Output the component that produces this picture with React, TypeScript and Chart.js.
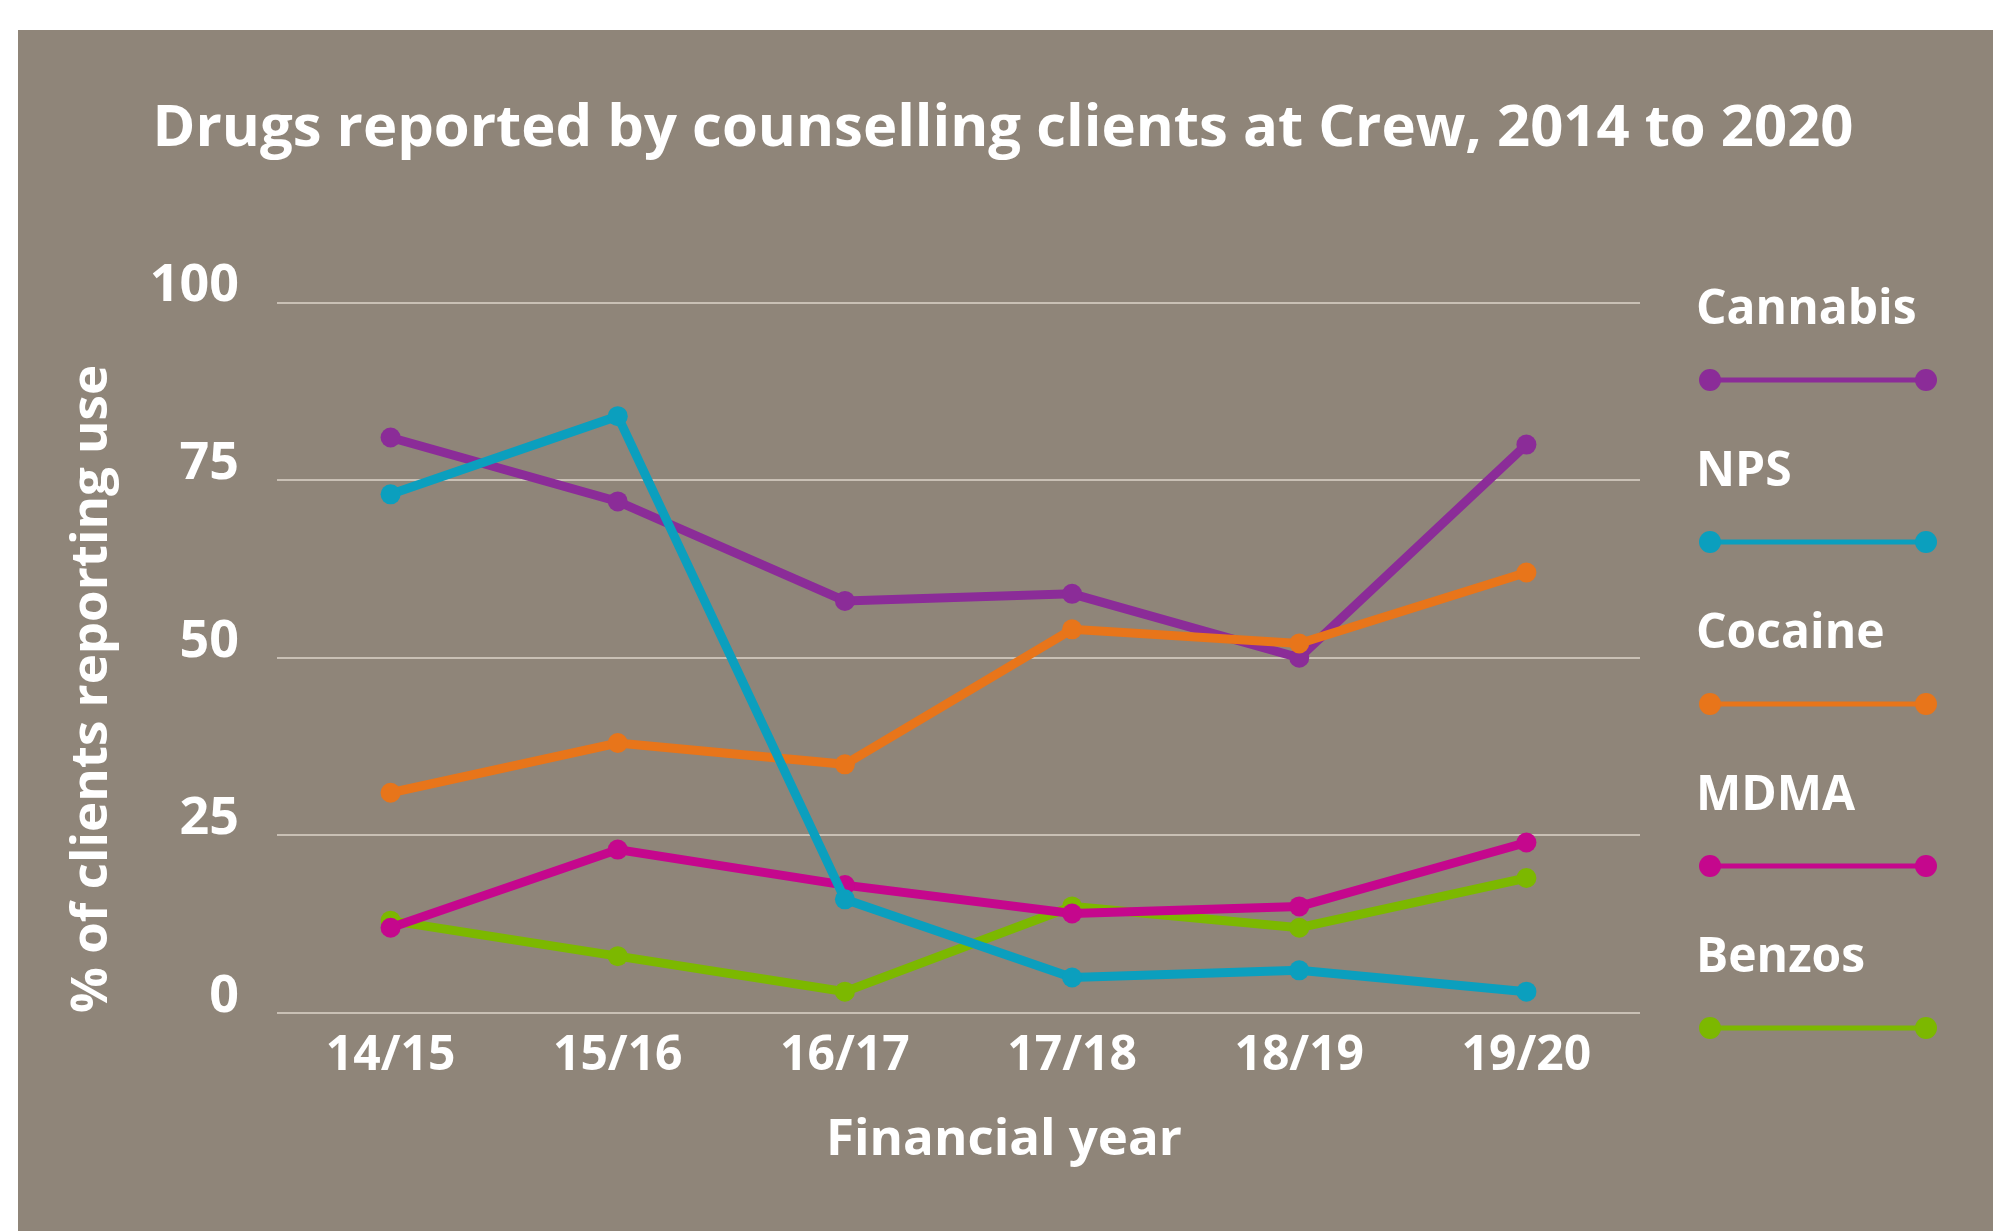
import React, { useEffect, useRef } from "react";
import { Chart, registerables } from "chart.js";

Chart.register(...registerables);

const categories = ["14/15", "15/16", "16/17", "17/18", "18/19", "19/20"];
const seriesNames = ["Cannabis", "NPS", "Cocaine", "MDMA", "Benzos"];
const seriesColors = ["#8b2c98", "#0b9fbe", "#e8751a", "#c5078d", "#7cb800"];
const cannabis = [81, 72, 58, 59, 50, 80];
const nps = [73, 84, 16, 5, 6, 3];
const cocaine = [31, 38, 35, 54, 52, 62];
const mdma = [12, 23, 18, 14, 15, 24];
const benzos = [13, 8, 3, 15, 12, 19];
const seriesValues = [cannabis, nps, cocaine, mdma, benzos];
const drawOrder = [4, 1, 2, 3, 5];
const yMin = 0;
const yMax = 100;
const yStep = 25;
const titleText = "Drugs reported by counselling clients at Crew, 2014 to 2020";
const xTitle = "Financial year";
const yTitle = "% of clients reporting use";

const FONT = '"Open Sans", "Noto Sans", sans-serif';
const W = 1975;
const H = 1201;

const textPlugin = {
  id: "panelText",
  afterDraw(chart: any) {
    const ctx = chart.ctx as CanvasRenderingContext2D;
    ctx.save();
    ctx.fillStyle = "#ffffff";
    ctx.textBaseline = "middle";
    ctx.textAlign = "center";
    ctx.font = `700 58px ${FONT}`;
    ctx.fillText(titleText, 985, 99);
    ctx.font = `700 51px ${FONT}`;
    ctx.fillText(xTitle, 986, 1110);
    chart.data.datasets.forEach((ds: any, i: number) => {
      const ty = 280 + i * 162;
      const ly = ty + 70;
      ctx.fillStyle = "#ffffff";
      ctx.textAlign = "left";
      ctx.font = `700 48px ${FONT}`;
      ctx.fillText(ds.label, 1678, ty);
      ctx.strokeStyle = ds.borderColor;
      ctx.lineWidth = 5;
      ctx.beginPath();
      ctx.moveTo(1692, ly);
      ctx.lineTo(1908, ly);
      ctx.stroke();
      ctx.fillStyle = ds.borderColor;
      [1692, 1908].forEach((x) => {
        ctx.beginPath();
        ctx.arc(x, ly, 11, 0, Math.PI * 2);
        ctx.fill();
      });
    });
    ctx.restore();
  },
};

export default function App() {
  const ref = useRef<HTMLCanvasElement | null>(null);
  useEffect(() => {
    if (!ref.current) return;
    const chart = new Chart(ref.current, {
      type: "line",
      data: {
        labels: categories,
        datasets: seriesNames.map((name, i) => ({
          label: name,
          data: seriesValues[i],
          borderColor: seriesColors[i],
          backgroundColor: seriesColors[i],
          pointBackgroundColor: seriesColors[i],
          pointBorderWidth: 0,
          borderWidth: 9,
          pointRadius: 10,
          tension: 0,
          order: drawOrder[i],
        })),
      },
      options: {
        responsive: false,
        animation: false,
        devicePixelRatio: 1,
        layout: { padding: { left: 0, right: 353, top: 272.5, bottom: 0 } },
        plugins: {
          legend: { display: false },
          tooltip: { enabled: false },
          title: { display: false },
        },
        scales: {
          x: {
            offset: true,
            grid: { display: false, drawTicks: false },
            border: { display: false },
            ticks: {
              color: "#ffffff",
              font: { family: FONT, size: 48, weight: "700" },
              padding: 15,
              maxRotation: 0,
            },
            afterFit: (s: any) => {
              s.height = 218;
            },
          },
          y: {
            min: yMin,
            max: yMax,
            grid: { color: "#c9c0b5", lineWidth: 2, drawTicks: false },
            border: { display: false },
            ticks: {
              stepSize: yStep,
              color: "#ffffff",
              font: { family: FONT, size: 52, weight: "700" },
              padding: 38,
              labelOffset: -16,
            },
            title: {
              display: true,
              text: yTitle,
              color: "#ffffff",
              align: "start",
              font: { family: FONT, size: 51, weight: "700" },
              padding: { top: 44, bottom: 0 },
            },
            afterFit: (s: any) => {
              s.width = 259;
            },
          },
        },
      },
      plugins: [textPlugin],
    } as any);
    return () => chart.destroy();
  }, []);
  return (
    <div
      style={{
        position: "fixed",
        left: 18,
        top: 30,
        width: W,
        height: H,
        background: "#8f8579",
      }}
    >
      <canvas ref={ref} width={W} height={H} style={{ display: "block" }} />
    </div>
  );
}
